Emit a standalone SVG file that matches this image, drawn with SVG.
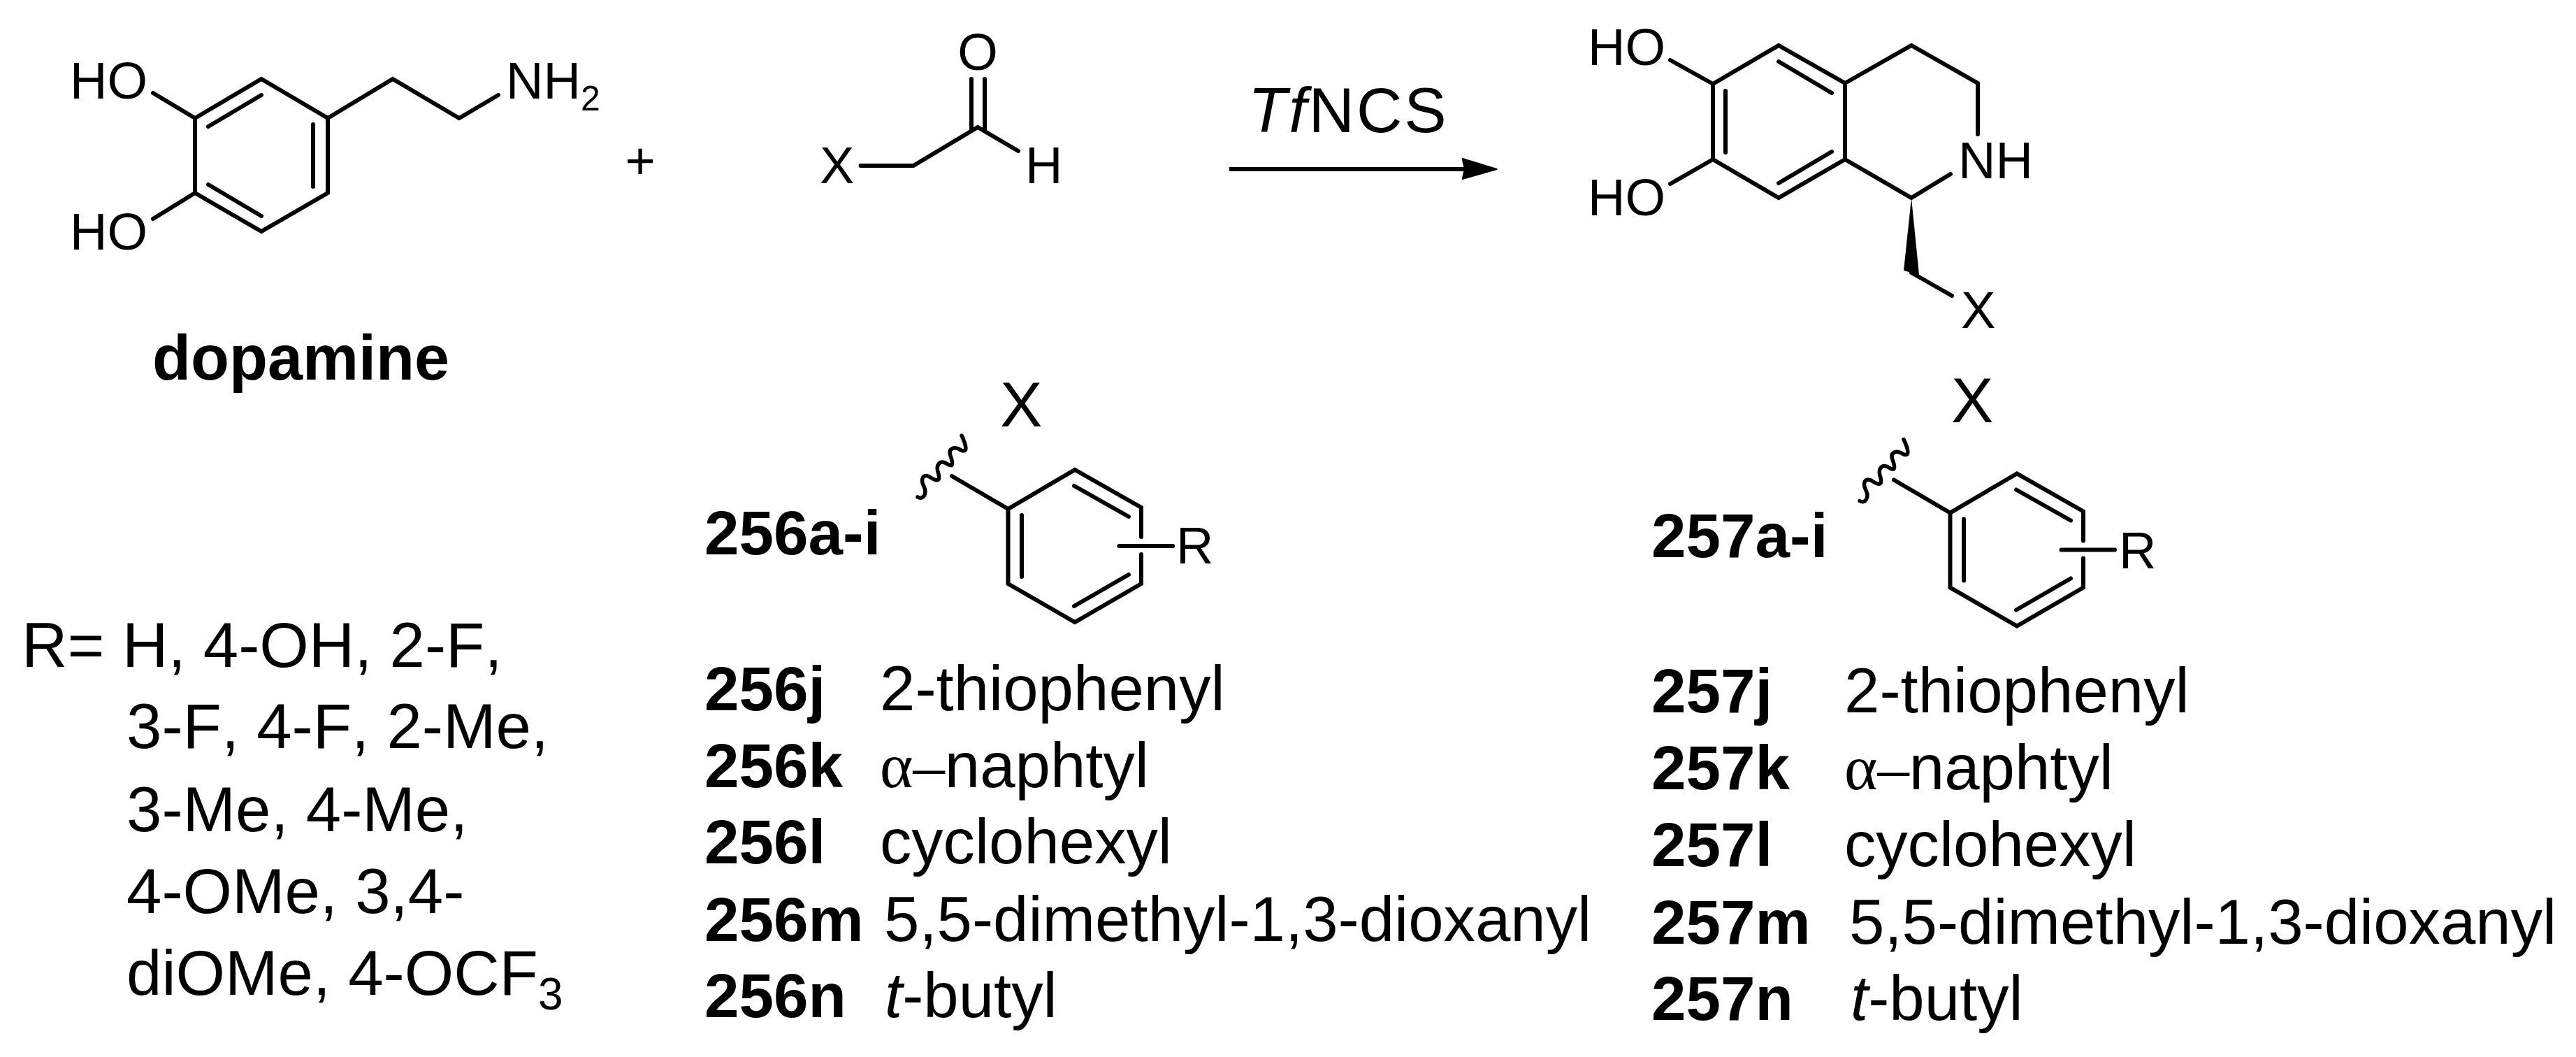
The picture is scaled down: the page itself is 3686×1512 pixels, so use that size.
<svg xmlns="http://www.w3.org/2000/svg" xmlns:xlink="http://www.w3.org/1999/xlink" width="3686" height="1512" viewBox="0 0 3686 1512">
<style>
text{font-family:"Liberation Sans",Arial,sans-serif;fill:#000;font-kerning:none}
.a{font-size:74px}
.b{font-size:90.600px}
.c{font-size:89px;font-weight:bold}
.d{font-size:90px;font-weight:bold}
.s{font-size:50px}
.i{font-style:italic}
.g{font-family:"Liberation Serif","Times New Roman",serif}
.bond{fill:none;stroke:#000;stroke-width:6;stroke-linecap:round;stroke-linejoin:miter}
.wavy{fill:none;stroke:#000;stroke-width:5.500;stroke-linecap:round}
</style>
<defs>
<g id="aryl">
<path class="bond" d="M1362 681L1442.500 728L1538 672L1633 726V768M1633 793V835L1538 890L1442.500 835V728M1537 695L1615 739M1462 737V825M1537 867L1615 822M1601.500 781H1678"/>
<path class="wavy" d="M1313 711C1321 716 1327 706 1322 696C1317 686 1320 677 1330 682C1339 688 1346 690 1343 678C1338 665 1345 656 1356 664C1365 670 1363 660 1360 652C1356 641 1366 638 1375 644C1384 648 1384 640 1376 623"/>
</g>
</defs>
<rect width="3686" height="1512" fill="#fff"/>
<g id="connectors">
<path class="bond" d="M1759 242H2100" style="stroke-linecap:butt"/>
<polygon points="2141.700,242 2092.700,227 2096,242 2092.700,256" fill="#000" stroke="#000" stroke-width="2" stroke-linejoin="round"/>
</g>
<g id="dopamine">
<path class="bond" d="M279 169L374 113L469 169V276L374 331L279 276ZM469 169L562 113L657 169L713 136M298 181L374 136M448 178V267M298 264L374 309M279 169L219 133M279 276L219 313"/>
<text class="a" x="100" y="140.500">HO</text>
<text class="a" x="100" y="357">HO</text>
<text class="a" x="724" y="140.500">NH<tspan class="s" dy="17">2</tspan></text>
<text class="d" x="218" y="543">dopamine</text>
</g>
<g id="plus"><text class="a" x="916" y="256" text-anchor="middle">+</text></g>
<g id="aldehyde">
<path class="bond" d="M1231.500 237H1307L1399 182L1457 216M1390 113V186M1409 113V186"/>
<text class="a" x="1173" y="262">X</text>
<text class="a" x="1399" y="100" text-anchor="middle">O</text>
<text class="a" x="1467" y="262">H</text>
</g>
<g id="reagent"><text class="b" x="1786" y="189" style="letter-spacing:3px"><tspan class="i">Tf</tspan>NCS</text></g>
<g id="product">
<path class="bond" d="M2451 120L2545 65L2640 119V228L2545 283L2451 228ZM2640 119L2735 65L2830 119V192M2791 249L2735 283L2640 228M2545 88L2621 133M2469 130V218M2545 262L2621 217M2451 120L2390 86M2451 228L2390 263M2735 390L2793 423"/>
<polygon points="2735,283 2724,387 2746,393" fill="#000"/>
<text class="a" x="2272" y="93">HO</text>
<text class="a" x="2272" y="308">HO</text>
<text class="a" x="2802" y="255">NH</text>
<text class="a" x="2806" y="469">X</text>
</g>
<g id="x256">
<use xlink:href="#aryl" href="#aryl"/>
<text class="b" x="1431" y="610">X</text>
<text class="a" x="1683" y="806">R</text>
<text class="c" x="1008" y="793">256a-i</text>
</g>
<g id="x257">
<use xlink:href="#aryl" href="#aryl" transform="translate(1348 5.500)"/>
<text class="b" x="2792" y="604">X</text>
<text class="a" x="3032" y="813">R</text>
<text class="c" x="2363" y="797">257a-i</text>
</g>
<g id="r-list">
<text class="b" x="31" y="953.600">R= <tspan x="175">H, 4-OH, 2-F,</tspan></text>
<text class="b" x="181" y="1070">3-F, 4-F, 2-Me,</text>
<text class="b" x="181" y="1188.500">3-Me, 4-Me,</text>
<text class="b" x="181" y="1306">4-OMe, 3,4-</text>
<text class="b" x="181" y="1423.400">diOMe, 4-OCF<tspan font-size="64" x="770" dy="20.600">3</tspan></text>
</g>
<g id="list256">
<text class="c" x="1008" y="1015.500">256j</text><text class="b" x="1259" y="1015.500">2-thiophenyl</text>
<text class="c" x="1008" y="1125.700">256k</text><text class="b" x="1259" y="1125.700"><tspan class="g">α–</tspan>naphtyl</text>
<text class="c" x="1008" y="1234.500">256l</text><text class="b" x="1259" y="1234.500">cyclohexyl</text>
<text class="c" x="1008" y="1345.800">256m</text><text class="b" x="1265" y="1345.800">5,5-dimethyl-1,3-dioxanyl</text>
<text class="c" x="1008" y="1455.300">256n</text><text class="b" x="1266" y="1455.300"><tspan class="i">t</tspan>-butyl</text>
</g>
<g id="list257">
<text class="c" x="2363" y="1019">257j</text><text class="b" x="2639" y="1019">2-thiophenyl</text>
<text class="c" x="2363" y="1129">257k</text><text class="b" x="2639" y="1129"><tspan class="g">α–</tspan>naphtyl</text>
<text class="c" x="2363" y="1239">257l</text><text class="b" x="2639" y="1239">cyclohexyl</text>
<text class="c" x="2363" y="1349.600">257m</text><text class="b" x="2646" y="1349.600">5,5-dimethyl-1,3-dioxanyl</text>
<text class="c" x="2363" y="1459">257n</text><text class="b" x="2648" y="1459"><tspan class="i">t</tspan>-butyl</text>
</g>
</svg>
